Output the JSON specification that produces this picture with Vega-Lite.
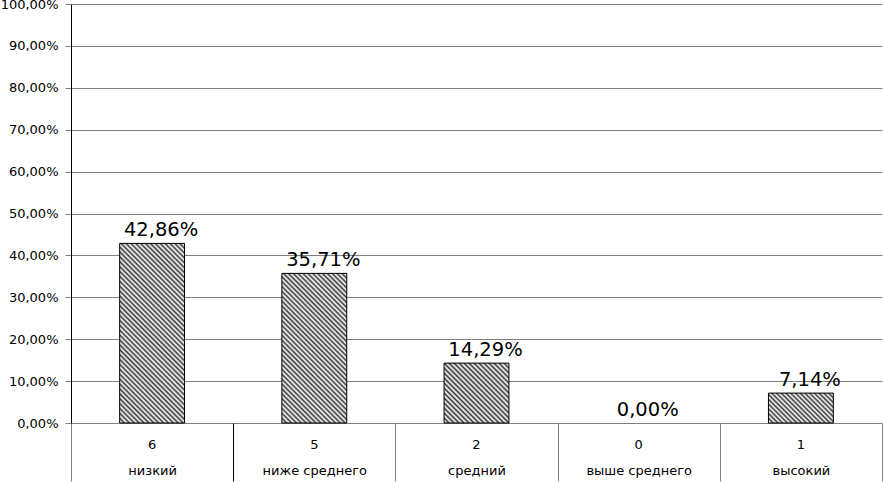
{
"$schema":"https://vega.github.io/schema/vega-lite/v6.json",
"width":811,"height":419,
"autosize":"none",
"padding":{"left":71,"top":4,"right":1,"bottom":59},
"background":"#ffffff",
"config":{"view":{"stroke":null},"font":"DejaVu Sans","locale":{"number":{"decimal":",","thousands":" ","grouping":[3],"currency":[""," ₽"]}}},
"data":{"values":[
{"category":"низкий","count":"6","pct":0.4286},
{"category":"ниже среднего","count":"5","pct":0.3571},
{"category":"средний","count":"2","pct":0.1429},
{"category":"выше среднего","count":"0","pct":0},
{"category":"высокий","count":"1","pct":0.0714}
]},
"layer":[
{"mark":{"type":"bar","width":{"band":0.4},"stroke":"#000","strokeWidth":1},
"encoding":{
"x":{"field":"category","type":"nominal","sort":null,"scale":{"type":"band","paddingInner":0,"paddingOuter":0},
"axis":{"orient":"bottom","title":null,"domain":false,"ticks":true,"tickBand":"extent","tickSize":58,"tickColor":{"condition":{"test":"datum.index == 0","value":"#000"},"value":"#808080"},"tickWidth":1,"labelPadding":-16.8,"labelAngle":0,"labelFont":"DejaVu Sans","labelFontSize":13,"labelColor":"#000","grid":false}},
"y":{"field":"pct","type":"quantitative","scale":{"domain":[0,1],"nice":false},
"axis":{"title":null,"format":".2%","values":[0,0.1,0.2,0.3,0.4,0.5,0.6,0.7,0.8,0.9,1],"grid":true,"gridColor":"#808080","gridWidth":1,"domainColor":"#000","domainWidth":1,"tickColor":"#808080","tickSize":6,"labelPadding":7,"labelFont":"DejaVu Sans","labelFontSize":13,"labelColor":"#000"}},
"strokeOpacity":{"condition":{"test":"datum.pct == 0","value":0},"value":1},
"fill":{"condition":[
{"test":"datum.category === 'низкий'","value":{"gradient":"linear","x1":0,"y1":1,"x2":0.4358,"y2":-0.2042,"stops":[
{"offset":0,"color":"#3a3a3a"},{"offset":0.01,"color":"#fff"},{"offset":0.02,"color":"#3a3a3a"},{"offset":0.03,"color":"#fff"},{"offset":0.04,"color":"#3a3a3a"},{"offset":0.05,"color":"#fff"},{"offset":0.06,"color":"#3a3a3a"},{"offset":0.07,"color":"#fff"},{"offset":0.08,"color":"#3a3a3a"},{"offset":0.09,"color":"#fff"},
{"offset":0.1,"color":"#3a3a3a"},{"offset":0.11,"color":"#fff"},{"offset":0.12,"color":"#3a3a3a"},{"offset":0.13,"color":"#fff"},{"offset":0.14,"color":"#3a3a3a"},{"offset":0.15,"color":"#fff"},{"offset":0.16,"color":"#3a3a3a"},{"offset":0.17,"color":"#fff"},{"offset":0.18,"color":"#3a3a3a"},{"offset":0.19,"color":"#fff"},
{"offset":0.2,"color":"#3a3a3a"},{"offset":0.21,"color":"#fff"},{"offset":0.22,"color":"#3a3a3a"},{"offset":0.23,"color":"#fff"},{"offset":0.24,"color":"#3a3a3a"},{"offset":0.25,"color":"#fff"},{"offset":0.26,"color":"#3a3a3a"},{"offset":0.27,"color":"#fff"},{"offset":0.28,"color":"#3a3a3a"},{"offset":0.29,"color":"#fff"},
{"offset":0.3,"color":"#3a3a3a"},{"offset":0.31,"color":"#fff"},{"offset":0.32,"color":"#3a3a3a"},{"offset":0.33,"color":"#fff"},{"offset":0.34,"color":"#3a3a3a"},{"offset":0.35,"color":"#fff"},{"offset":0.36,"color":"#3a3a3a"},{"offset":0.37,"color":"#fff"},{"offset":0.38,"color":"#3a3a3a"},{"offset":0.39,"color":"#fff"},
{"offset":0.4,"color":"#3a3a3a"},{"offset":0.41,"color":"#fff"},{"offset":0.42,"color":"#3a3a3a"},{"offset":0.43,"color":"#fff"},{"offset":0.44,"color":"#3a3a3a"},{"offset":0.45,"color":"#fff"},{"offset":0.46,"color":"#3a3a3a"},{"offset":0.47,"color":"#fff"},{"offset":0.48,"color":"#3a3a3a"},{"offset":0.49,"color":"#fff"},
{"offset":0.5,"color":"#3a3a3a"},{"offset":0.51,"color":"#fff"},{"offset":0.52,"color":"#3a3a3a"},{"offset":0.53,"color":"#fff"},{"offset":0.54,"color":"#3a3a3a"},{"offset":0.55,"color":"#fff"},{"offset":0.56,"color":"#3a3a3a"},{"offset":0.57,"color":"#fff"},{"offset":0.58,"color":"#3a3a3a"},{"offset":0.59,"color":"#fff"},
{"offset":0.6,"color":"#3a3a3a"},{"offset":0.61,"color":"#fff"},{"offset":0.62,"color":"#3a3a3a"},{"offset":0.63,"color":"#fff"},{"offset":0.64,"color":"#3a3a3a"},{"offset":0.65,"color":"#fff"},{"offset":0.66,"color":"#3a3a3a"},{"offset":0.67,"color":"#fff"},{"offset":0.68,"color":"#3a3a3a"},{"offset":0.69,"color":"#fff"},
{"offset":0.7,"color":"#3a3a3a"},{"offset":0.71,"color":"#fff"},{"offset":0.72,"color":"#3a3a3a"},{"offset":0.73,"color":"#fff"},{"offset":0.74,"color":"#3a3a3a"},{"offset":0.75,"color":"#fff"},{"offset":0.76,"color":"#3a3a3a"},{"offset":0.77,"color":"#fff"},{"offset":0.78,"color":"#3a3a3a"},{"offset":0.79,"color":"#fff"},
{"offset":0.8,"color":"#3a3a3a"},{"offset":0.81,"color":"#fff"},{"offset":0.82,"color":"#3a3a3a"},{"offset":0.83,"color":"#fff"},{"offset":0.84,"color":"#3a3a3a"},{"offset":0.85,"color":"#fff"},{"offset":0.86,"color":"#3a3a3a"},{"offset":0.87,"color":"#fff"},{"offset":0.88,"color":"#3a3a3a"},{"offset":0.89,"color":"#fff"},
{"offset":0.9,"color":"#3a3a3a"},{"offset":0.91,"color":"#fff"},{"offset":0.92,"color":"#3a3a3a"},{"offset":0.93,"color":"#fff"},{"offset":0.94,"color":"#3a3a3a"},{"offset":0.95,"color":"#fff"},{"offset":0.96,"color":"#3a3a3a"},{"offset":0.97,"color":"#fff"},{"offset":0.98,"color":"#3a3a3a"},{"offset":0.99,"color":"#fff"},
{"offset":1,"color":"#3a3a3a"}]}},
{"test":"datum.category === 'ниже среднего'","value":{"gradient":"linear","x1":0,"y1":1,"x2":0.5243,"y2":-0.2067,"stops":[
{"offset":0,"color":"#3a3a3a"},{"offset":0.0114,"color":"#fff"},{"offset":0.0227,"color":"#3a3a3a"},{"offset":0.0341,"color":"#fff"},{"offset":0.0455,"color":"#3a3a3a"},{"offset":0.0568,"color":"#fff"},{"offset":0.0682,"color":"#3a3a3a"},{"offset":0.0795,"color":"#fff"},{"offset":0.0909,"color":"#3a3a3a"},{"offset":0.1023,"color":"#fff"},{"offset":0.1136,"color":"#3a3a3a"},{"offset":0.125,"color":"#fff"},{"offset":0.1364,"color":"#3a3a3a"},{"offset":0.1477,"color":"#fff"},{"offset":0.1591,"color":"#3a3a3a"},{"offset":0.1705,"color":"#fff"},{"offset":0.1818,"color":"#3a3a3a"},{"offset":0.1932,"color":"#fff"},{"offset":0.2045,"color":"#3a3a3a"},{"offset":0.2159,"color":"#fff"},{"offset":0.2273,"color":"#3a3a3a"},{"offset":0.2386,"color":"#fff"},
{"offset":0.25,"color":"#3a3a3a"},{"offset":0.2614,"color":"#fff"},{"offset":0.2727,"color":"#3a3a3a"},{"offset":0.2841,"color":"#fff"},{"offset":0.2955,"color":"#3a3a3a"},{"offset":0.3068,"color":"#fff"},{"offset":0.3182,"color":"#3a3a3a"},{"offset":0.3295,"color":"#fff"},{"offset":0.3409,"color":"#3a3a3a"},{"offset":0.3523,"color":"#fff"},{"offset":0.3636,"color":"#3a3a3a"},{"offset":0.375,"color":"#fff"},{"offset":0.3864,"color":"#3a3a3a"},{"offset":0.3977,"color":"#fff"},{"offset":0.4091,"color":"#3a3a3a"},{"offset":0.4205,"color":"#fff"},{"offset":0.4318,"color":"#3a3a3a"},{"offset":0.4432,"color":"#fff"},{"offset":0.4545,"color":"#3a3a3a"},{"offset":0.4659,"color":"#fff"},{"offset":0.4773,"color":"#3a3a3a"},{"offset":0.4886,"color":"#fff"},
{"offset":0.5,"color":"#3a3a3a"},{"offset":0.5114,"color":"#fff"},{"offset":0.5227,"color":"#3a3a3a"},{"offset":0.5341,"color":"#fff"},{"offset":0.5455,"color":"#3a3a3a"},{"offset":0.5568,"color":"#fff"},{"offset":0.5682,"color":"#3a3a3a"},{"offset":0.5795,"color":"#fff"},{"offset":0.5909,"color":"#3a3a3a"},{"offset":0.6023,"color":"#fff"},{"offset":0.6136,"color":"#3a3a3a"},{"offset":0.625,"color":"#fff"},{"offset":0.6364,"color":"#3a3a3a"},{"offset":0.6477,"color":"#fff"},{"offset":0.6591,"color":"#3a3a3a"},{"offset":0.6705,"color":"#fff"},{"offset":0.6818,"color":"#3a3a3a"},{"offset":0.6932,"color":"#fff"},{"offset":0.7045,"color":"#3a3a3a"},{"offset":0.7159,"color":"#fff"},{"offset":0.7273,"color":"#3a3a3a"},{"offset":0.7386,"color":"#fff"},
{"offset":0.75,"color":"#3a3a3a"},{"offset":0.7614,"color":"#fff"},{"offset":0.7727,"color":"#3a3a3a"},{"offset":0.7841,"color":"#fff"},{"offset":0.7955,"color":"#3a3a3a"},{"offset":0.8068,"color":"#fff"},{"offset":0.8182,"color":"#3a3a3a"},{"offset":0.8295,"color":"#fff"},{"offset":0.8409,"color":"#3a3a3a"},{"offset":0.8523,"color":"#fff"},{"offset":0.8636,"color":"#3a3a3a"},{"offset":0.875,"color":"#fff"},{"offset":0.8864,"color":"#3a3a3a"},{"offset":0.8977,"color":"#fff"},{"offset":0.9091,"color":"#3a3a3a"},{"offset":0.9205,"color":"#fff"},{"offset":0.9318,"color":"#3a3a3a"},{"offset":0.9432,"color":"#fff"},{"offset":0.9545,"color":"#3a3a3a"},{"offset":0.9659,"color":"#fff"},{"offset":0.9773,"color":"#3a3a3a"},{"offset":0.9886,"color":"#fff"},
{"offset":1,"color":"#3a3a3a"}]}},
{"test":"datum.category === 'средний'","value":{"gradient":"linear","x1":0,"y1":1,"x2":1.0391,"y2":0.0424,"stops":[
{"offset":0,"color":"#3a3a3a"},{"offset":0.02,"color":"#fff"},{"offset":0.04,"color":"#3a3a3a"},{"offset":0.06,"color":"#fff"},{"offset":0.08,"color":"#3a3a3a"},{"offset":0.1,"color":"#fff"},{"offset":0.12,"color":"#3a3a3a"},{"offset":0.14,"color":"#fff"},{"offset":0.16,"color":"#3a3a3a"},{"offset":0.18,"color":"#fff"},
{"offset":0.2,"color":"#3a3a3a"},{"offset":0.22,"color":"#fff"},{"offset":0.24,"color":"#3a3a3a"},{"offset":0.26,"color":"#fff"},{"offset":0.28,"color":"#3a3a3a"},{"offset":0.3,"color":"#fff"},{"offset":0.32,"color":"#3a3a3a"},{"offset":0.34,"color":"#fff"},{"offset":0.36,"color":"#3a3a3a"},{"offset":0.38,"color":"#fff"},
{"offset":0.4,"color":"#3a3a3a"},{"offset":0.42,"color":"#fff"},{"offset":0.44,"color":"#3a3a3a"},{"offset":0.46,"color":"#fff"},{"offset":0.48,"color":"#3a3a3a"},{"offset":0.5,"color":"#fff"},{"offset":0.52,"color":"#3a3a3a"},{"offset":0.54,"color":"#fff"},{"offset":0.56,"color":"#3a3a3a"},{"offset":0.58,"color":"#fff"},
{"offset":0.6,"color":"#3a3a3a"},{"offset":0.62,"color":"#fff"},{"offset":0.64,"color":"#3a3a3a"},{"offset":0.66,"color":"#fff"},{"offset":0.68,"color":"#3a3a3a"},{"offset":0.7,"color":"#fff"},{"offset":0.72,"color":"#3a3a3a"},{"offset":0.74,"color":"#fff"},{"offset":0.76,"color":"#3a3a3a"},{"offset":0.78,"color":"#fff"},
{"offset":0.8,"color":"#3a3a3a"},{"offset":0.82,"color":"#fff"},{"offset":0.84,"color":"#3a3a3a"},{"offset":0.86,"color":"#fff"},{"offset":0.88,"color":"#3a3a3a"},{"offset":0.9,"color":"#fff"},{"offset":0.92,"color":"#3a3a3a"},{"offset":0.94,"color":"#fff"},{"offset":0.96,"color":"#3a3a3a"},{"offset":0.98,"color":"#fff"},
{"offset":1,"color":"#3a3a3a"}]}},
{"test":"datum.category === 'высокий'","value":{"gradient":"linear","x1":0,"y1":1,"x2":1.205,"y2":0.4457,"stops":[
{"offset":0,"color":"#3a3a3a"},{"offset":0.025,"color":"#fff"},{"offset":0.05,"color":"#3a3a3a"},{"offset":0.075,"color":"#fff"},{"offset":0.1,"color":"#3a3a3a"},{"offset":0.125,"color":"#fff"},{"offset":0.15,"color":"#3a3a3a"},{"offset":0.175,"color":"#fff"},
{"offset":0.2,"color":"#3a3a3a"},{"offset":0.225,"color":"#fff"},{"offset":0.25,"color":"#3a3a3a"},{"offset":0.275,"color":"#fff"},{"offset":0.3,"color":"#3a3a3a"},{"offset":0.325,"color":"#fff"},{"offset":0.35,"color":"#3a3a3a"},{"offset":0.375,"color":"#fff"},
{"offset":0.4,"color":"#3a3a3a"},{"offset":0.425,"color":"#fff"},{"offset":0.45,"color":"#3a3a3a"},{"offset":0.475,"color":"#fff"},{"offset":0.5,"color":"#3a3a3a"},{"offset":0.525,"color":"#fff"},{"offset":0.55,"color":"#3a3a3a"},{"offset":0.575,"color":"#fff"},
{"offset":0.6,"color":"#3a3a3a"},{"offset":0.625,"color":"#fff"},{"offset":0.65,"color":"#3a3a3a"},{"offset":0.675,"color":"#fff"},{"offset":0.7,"color":"#3a3a3a"},{"offset":0.725,"color":"#fff"},{"offset":0.75,"color":"#3a3a3a"},{"offset":0.775,"color":"#fff"},
{"offset":0.8,"color":"#3a3a3a"},{"offset":0.825,"color":"#fff"},{"offset":0.85,"color":"#3a3a3a"},{"offset":0.875,"color":"#fff"},{"offset":0.9,"color":"#3a3a3a"},{"offset":0.925,"color":"#fff"},{"offset":0.95,"color":"#3a3a3a"},{"offset":0.975,"color":"#fff"},
{"offset":1,"color":"#3a3a3a"}]}}
],"value":"#ffffff"}
}},
{"mark":{"type":"text","baseline":"alphabetic","align":"center","dy":-7,"dx":9,"fontSize":19.5,"font":"DejaVu Sans","color":"#000"},
"encoding":{
"x":{"field":"count","type":"nominal","sort":null,"scale":{"type":"band","paddingInner":0,"paddingOuter":0},
"axis":{"orient":"bottom","title":null,"domain":false,"ticks":false,"grid":false,"labelPadding":15.5,"labelAngle":0,"labelFont":"DejaVu Sans","labelFontSize":13,"labelColor":"#000"}},
"y":{"field":"pct","type":"quantitative"},
"text":{"field":"pct","type":"quantitative","format":".2%"}
}}
],
"resolve":{"scale":{"x":"independent"},"axis":{"x":"independent"}}
}
